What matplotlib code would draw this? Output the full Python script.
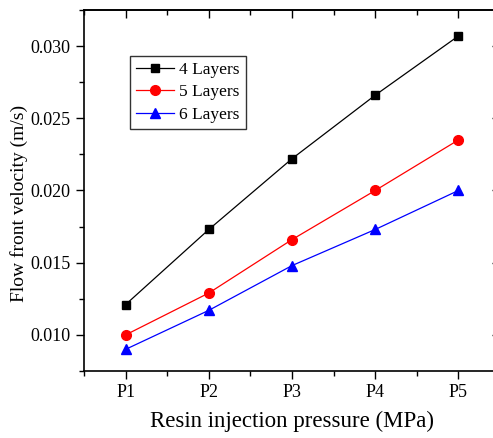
import matplotlib
matplotlib.use("Agg")
import matplotlib.pyplot as plt
from matplotlib.ticker import MultipleLocator, FormatStrFormatter, NullFormatter

plt.rcParams['font.family'] = ['Liberation Serif', 'DejaVu Serif']

pressures = ["P1", "P2", "P3", "P4", "P5"]
layers4 = [0.0121, 0.0173, 0.0222, 0.0266, 0.0307]
layers5 = [0.0100, 0.0129, 0.0166, 0.0200, 0.0235]
layers6 = [0.0090, 0.0117, 0.0148, 0.0173, 0.0200]

fig = plt.figure(figsize=(4.93, 4.38), dpi=100)
ax = fig.add_axes([84 / 493, 1 - 371 / 438, (500 - 84) / 493, (371 - 10) / 438])

x = list(range(1, len(pressures) + 1))
ax.plot(x, layers4, color='black', marker='s', markersize=6, lw=0.9, label='4 Layers')
ax.plot(x, layers5, color='red', marker='o', markersize=7, lw=0.9, label='5 Layers')
ax.plot(x, layers6, color='blue', marker='^', markersize=7, lw=0.9, label='6 Layers')

ax.set_xlim(0.5, 5.5)
ax.set_ylim(0.0075, 0.0325)
ax.set_xticks(x)
ax.set_xticklabels(pressures)
ax.xaxis.set_minor_locator(MultipleLocator(0.5))
ax.yaxis.set_major_locator(MultipleLocator(0.005))
ax.yaxis.set_minor_locator(MultipleLocator(0.0025))
ax.yaxis.set_major_formatter(FormatStrFormatter('%.3f'))

ax.tick_params(axis='both', which='major', labelsize=13, length=6, width=1, direction='out')
ax.tick_params(axis='both', which='minor', length=3.5, width=1, direction='out')

# top and right ticks point inward, no labels
top = ax.secondary_xaxis('top')
top.set_xticks(x)
top.xaxis.set_minor_locator(MultipleLocator(0.5))
top.xaxis.set_major_formatter(NullFormatter())
top.tick_params(which='major', direction='in', length=6, width=1)
top.tick_params(which='minor', direction='in', length=3.5, width=1)
right = ax.secondary_yaxis('right')
right.yaxis.set_major_locator(MultipleLocator(0.005))
right.yaxis.set_minor_locator(MultipleLocator(0.0025))
right.yaxis.set_major_formatter(NullFormatter())
right.tick_params(which='major', direction='in', length=6, width=1)
right.tick_params(which='minor', direction='in', length=3.5, width=1)
for a in (ax, top, right):
    for s in a.spines.values():
        s.set_linewidth(1.2)

ax.set_xlabel('Resin injection pressure (MPa)', fontsize=16.5, labelpad=7)
ax.set_ylabel('Flow front velocity (m/s)', fontsize=14)
ax.yaxis.set_label_coords((28 - 84) / 416, 1 - (203 - 10) / 361)

leg = ax.legend(loc='upper left', bbox_to_anchor=((130 - 84) / 416, 1 - 46 / 361),
                fontsize=12.5, frameon=True, fancybox=False, edgecolor='black',
                handlelength=2.2, handletextpad=0.3, borderpad=0.35, labelspacing=0.35,
                borderaxespad=0)
leg.get_frame().set_linewidth(1.0)

fig.savefig('out.png', dpi=100)
